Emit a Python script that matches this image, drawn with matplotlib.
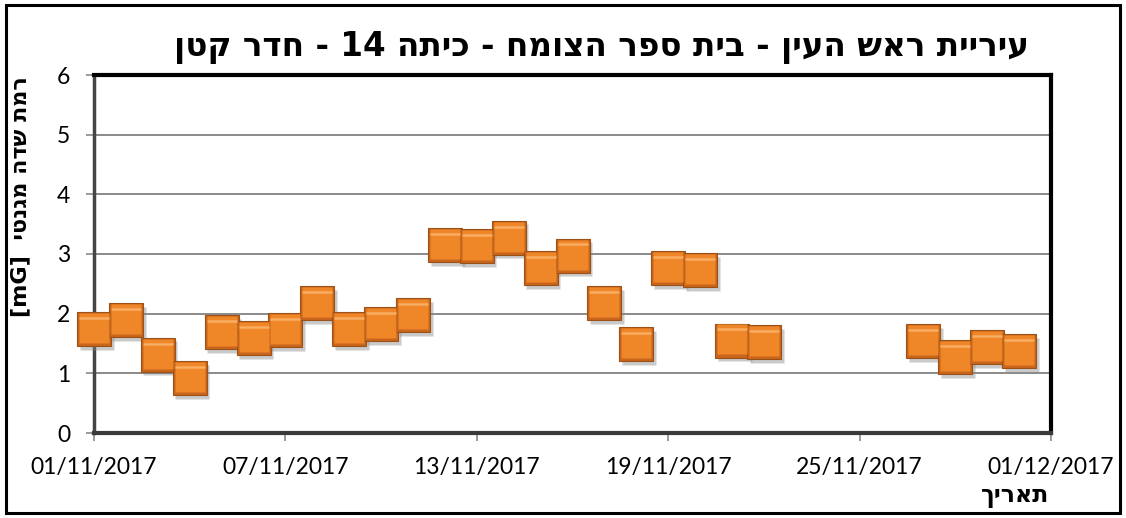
import re
import matplotlib
matplotlib.use("Agg")
import matplotlib.pyplot as plt
import matplotlib.dates as mdates
import pandas as pd
from matplotlib.patches import Rectangle

# readings (day of measurement, field level in mG)
dates = ["01/11/2017", "02/11/2017", "03/11/2017", "04/11/2017", "05/11/2017",
         "06/11/2017", "07/11/2017", "08/11/2017", "09/11/2017", "10/11/2017",
         "11/11/2017", "12/11/2017", "13/11/2017", "14/11/2017", "15/11/2017",
         "16/11/2017", "17/11/2017", "18/11/2017", "19/11/2017", "20/11/2017",
         "21/11/2017", "22/11/2017", "27/11/2017", "28/11/2017", "29/11/2017",
         "30/11/2017"]
values = [1.74, 1.89, 1.31, 0.92, 1.69, 1.59, 1.72, 2.18, 1.74, 1.82,
          1.97, 3.15, 3.13, 3.27, 2.76, 2.97, 2.18, 1.49, 2.76, 2.73,
          1.55, 1.52, 1.54, 1.27, 1.44, 1.37]
title = "עיריית ראש העין - בית ספר הצומח - כיתה 14 - חדר קטן"
ylabel = "רמת שדה מגנטי  [mG]"
xlabel = "תאריך"


def rtl(s):
    # matplotlib has no bidi support: flip to visual order, keep latin/digit runs LTR
    r = s[::-1]
    return re.sub(r"[A-Za-z0-9\[\]/]+", lambda m: m.group(0)[::-1], r)


x = pd.to_datetime(dates, format="%d/%m/%Y")
heb = ["DejaVu Sans"]

fig = plt.figure(figsize=(11.26, 5.18), dpi=100)
ax = fig.add_axes([94 / 1126, 85 / 518, (1051 - 94) / 1126, (433 - 75) / 518])

# outer chart border
fig.patches.append(Rectangle((6 / 1126, 5 / 518), 1114 / 1126, 508 / 518,
                             transform=fig.transFigure, fill=False,
                             edgecolor="black", linewidth=2.2))

ax.set_ylim(0, 6)
ax.set_xlim(pd.Timestamp("2017-11-01"), pd.Timestamp("2017-12-01"))
ax.set_yticks(range(0, 7))
ax.set_xticks(pd.date_range("2017-11-01", "2017-12-01", freq="6D"))
ax.xaxis.set_major_formatter(mdates.DateFormatter("%d/%m/%Y"))
ax.grid(axis="y", color="#8a8a8a", linewidth=1.4)
ax.set_axisbelow(True)

# bevelled orange squares: shadow, rim, face, top light
ax.plot(x + pd.Timedelta(hours=2), [v - 0.06 for v in values], "s", ms=25,
        color="#8a8a8a", alpha=0.45, mec="none", zorder=3, clip_on=False)
ax.plot(x, values, "s", ms=25, mfc="#c9651c", mec="#9a5218", mew=0.8,
        zorder=4, clip_on=False)
ax.plot(x, [v + 0.02 for v in values], "s", ms=21, mfc="#ef8628", mec="none",
        zorder=5, clip_on=False)
ax.plot(x, [v + 0.19 for v in values], "_", ms=21, mew=1.8, color="#f7ad62",
        zorder=6, clip_on=False)

for side in ["top", "right"]:
    ax.spines[side].set_color("black")
    ax.spines[side].set_linewidth(3)
ax.spines["left"].set_color("#454545")
ax.spines["left"].set_linewidth(2.5)
ax.spines["bottom"].set_color("#3a3a3a")
ax.spines["bottom"].set_linewidth(3)

ax.tick_params(axis="both", direction="out", length=6, width=1.2,
               color="#8a8a8a", labelsize=16.5)
ax.tick_params(axis="x", pad=11)
ax.tick_params(axis="y", pad=11)
for lab in ax.get_xticklabels() + ax.get_yticklabels():
    lab.set_family(["Lato", "DejaVu Sans"])

fig.text(601 / 1126, 1 - 47 / 518, rtl(title), ha="center", va="center",
         fontsize=23.5, fontweight="bold", family=heb)
fig.text(20 / 1126, 1 - 197 / 518, rtl(ylabel), ha="center", va="center",
         rotation=90, fontsize=16, fontweight="bold", family=heb)
fig.text(1015 / 1126, 1 - 496 / 518, rtl(xlabel), ha="center", va="center",
         fontsize=17, fontweight="bold", family=heb)

fig.savefig("out.png", dpi=100)
